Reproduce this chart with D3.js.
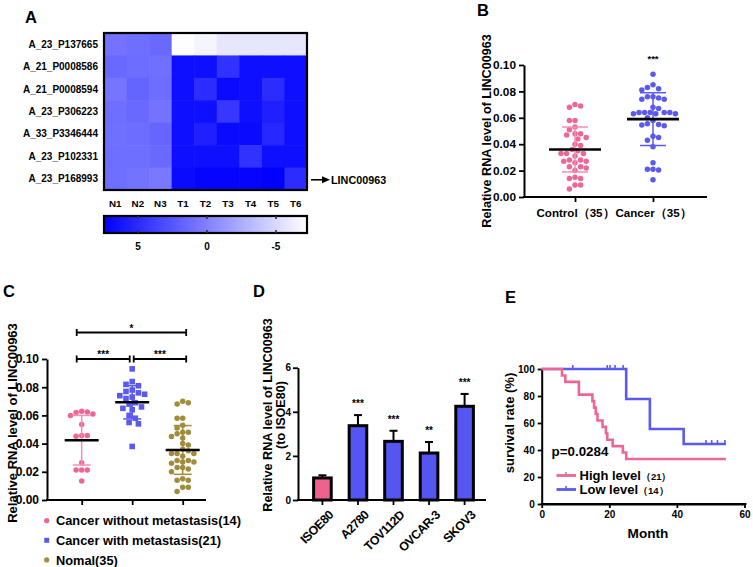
<!DOCTYPE html>
<html><head><meta charset="utf-8">
<script src="https://cdn.jsdelivr.net/npm/d3@7"></script>
<style>
html,body{margin:0;padding:0;background:#fff;}
text{font-family:'Liberation Sans',Arial,Helvetica,sans-serif;font-weight:bold;fill:#000;}
</style></head>
<body>
<script>
// ---------------- DATA ----------------
// Panel A heatmap
const heatRows = ["A_23_P137665","A_21_P0008586","A_21_P0008594","A_23_P306223","A_33_P3346444","A_23_P102331","A_23_P168993"];
const heatCols = ["N1","N2","N3","T1","T2","T3","T4","T5","T6"];
const heatValues = [
  [0.8, 1.1, 1.4, -7.2, -6.7, -5.8, -5.8, -5.8, -5.8],
  [1.4, 1.2, 1.0, 6.6, 6.6, 4.6, 6.6, 6.6, 6.6],
  [0.7, 1.7, 1.2, 6.6, 4.9, 6.9, 6.6, 4.9, 6.6],
  [1.1, 1.4, 0.8, 6.6, 6.6, 4.3, 6.6, 5.7, 6.6],
  [1.0, 1.2, 1.6, 6.6, 5.7, 6.9, 6.9, 5.2, 6.6],
  [1.1, 1.1, 1.4, 6.6, 6.6, 6.6, 4.6, 6.6, 6.6],
  [1.1, 0.8, 0.5, 6.9, 7.2, 7.2, 7.2, 7.4, 4.9]
];
const heatDomain = [7.46, -7.25];
const colorbarTicks = [5, 0, -5];
const highlightGene = "LINC00963";

// Panel B
const bGroups = ["Control（35）", "Cancer（35）"];
const bControl = [0.068,0.069,0.070,0.058,0.058,0.053,0.051,0.048,0.048,0.047,0.045,0.044,0.040,0.039,0.036,0.035,
  0.033,0.033,0.033,0.031,0.028,0.027,0.027,0.028,0.026,0.023,0.023,0.022,0.020,0.014,0.014,0.015,0.009,0.009,0.006];
const bCancer = [0.093,0.083,0.085,0.082,0.081,0.074,0.076,0.075,0.074,0.076,0.068,0.067,0.064,0.063,0.064,0.064,
  0.064,0.064,0.063,0.058,0.060,0.055,0.054,0.0545,0.0555,0.046,0.045,0.043,0.038,0.026,0.021,0.021,0.0205,0.013,0.063];
const bMean = [0.036, 0.059];
const bSD = [0.017, 0.020];
const bStars = ["", "***"];
const bTicks = [0, 0.02, 0.04, 0.06, 0.08, 0.10];

// Panel C
const cGroups = ["Cancer without metastasis(14)", "Cancer with metastasis(21)", "Nomal(35)"];
const cNoMet = [0.063,0.062,0.060,0.061,0.0625,0.0535,0.0458,0.0453,0.0458,0.0264,0.0212,0.0212,0.0212,0.0134];
const cMet = [0.093,0.084,0.082,0.081,0.078,0.077,0.076,0.075,0.074,0.073,0.072,0.069,0.068,0.066,0.065,0.064,0.060,0.058,0.055,0.054,0.038];
const cNormal = [0.068,0.069,0.070,0.058,0.058,0.053,0.051,0.048,0.048,0.047,0.045,0.044,0.040,0.039,0.036,0.035,
  0.033,0.033,0.033,0.031,0.028,0.027,0.027,0.028,0.026,0.023,0.023,0.022,0.020,0.014,0.014,0.015,0.009,0.009,0.006];
const cMean = [0.0424, 0.0693, 0.0355];
const cSD = [0.0176, 0.0118, 0.0173];
const cSigFrom = [0, 1, 0];
const cSigTo = [1, 2, 2];
const cSigLabel = ["***", "***", "*"];

// Panel D
const dLines = ["ISOE80", "A2780", "TOV112D", "OVCAR-3", "SKOV3"];
const dMean = [1.0, 3.37, 2.66, 2.13, 4.25];
const dErr = [0.12, 0.48, 0.48, 0.50, 0.56];
const dStars = ["", "***", "***", "**", "***"];
const dTicks = [0, 2, 4, 6];

// Panel E
const eHighTimes = [0, 6, 7, 11, 15, 15.5, 16, 16.5, 18, 19, 19.4, 21, 24, 25, 54.5];
const eHighSurv = [100, 95.2, 90.5, 81.0, 76.2, 71.4, 66.7, 61.9, 57.1, 52.4, 47.6, 42.9, 38.1, 33.3, 33.3];
const eLowTimes = [0, 25, 32, 42, 54.5];
const eLowSurv = [100, 77.8, 55.6, 44.4, 44.4];
const eLowCensor = [9.2, 19.4, 20.2, 21.7, 24.1, 48.6, 50.3, 52.0, 54.2];
const eLegend = ["High level", "Low level"];
const eLegendN = ["（21）", "（14）"];
const ePValue = "p=0.0284";
const eYTicks = [0, 20, 40, 60, 80, 100];
const eXTicks = [0, 20, 40, 60];

// ---------------- STYLE ----------------
const PINK = "#ee6696", PINK_LIGHT = "#f28fb2", BLUE = "#5a5af0", OLIVE = "#a08c3c";
const BAR_PINK = "#f0628e", BAR_BLUE = "#5555f2";

const W = 753, H = 567;
const svg = d3.select("body").append("svg").attr("width", W).attr("height", H);
svg.append("rect").attr("width", W).attr("height", H).attr("fill", "#fff");

function panelLetter(t, x, y) {
  svg.append("text").attr("x", x).attr("y", y).attr("font-size", 16.5).text(t);
}
function styleAxis(g, fs) {
  g.selectAll("path.domain").attr("stroke", "#000").attr("stroke-width", 2);
  g.selectAll(".tick line").attr("stroke", "#000").attr("stroke-width", 1.8);
  g.selectAll(".tick text").attr("font-size", fs).attr("font-family", "'Liberation Sans',Arial,sans-serif").attr("font-weight", "bold").attr("fill", "#000");
}
function swarm(vals, y, d) {
  const pts = vals.map(v => ({ v, y: y(v), x: 0 }));
  const order = pts.slice().sort((a, b) => a.y - b.y);
  const placed = [];
  const step = d / 2;
  order.forEach((p, idx) => {
    const first = idx % 2 ? 1 : -1;
    for (let k = 0; k < 80; k++) {
      const off = k === 0 ? 0 : (k % 2 ? first : -first) * Math.ceil(k / 2) * step;
      if (placed.every(q => (q.x - off) ** 2 + (q.y - p.y) ** 2 >= d * d * 0.97)) { p.x = off; break; }
    }
    placed.push(p);
  });
  return pts;
}

// ---------------- PANEL A ----------------
panelLetter("A", 25, 22.5);
const hx = d3.scaleBand().domain(heatCols).range([104, 307]);
const hy = d3.scaleBand().domain(heatRows).range([33, 190]);
const hColor = d3.scaleLinear().domain(heatDomain).range(["#0000ff", "#ffffff"]).clamp(true);
const gA = svg.append("g");
heatRows.forEach((r, i) => {
  heatCols.forEach((c, j) => {
    gA.append("rect").attr("x", hx(c)).attr("y", hy(r))
      .attr("width", hx.bandwidth() + 0.6).attr("height", hy.bandwidth() + 0.6)
      .attr("fill", hColor(heatValues[i][j]));
  });
});
gA.append("rect").attr("x", 104).attr("y", 33).attr("width", 203).attr("height", 157)
  .attr("fill", "none").attr("stroke", "#000").attr("stroke-width", 2.2);
gA.selectAll("text.row").data(heatRows).join("text").attr("class", "row")
  .attr("x", 98).attr("y", d => hy(d) + hy.bandwidth() / 2).attr("dy", "0.35em")
  .attr("text-anchor", "end").attr("font-size", 10).text(d => d);
gA.selectAll("text.col").data(heatCols).join("text").attr("class", "col")
  .attr("x", d => hx(d) + hx.bandwidth() / 2).attr("y", 207)
  .attr("text-anchor", "middle").attr("font-size", 9.8).text(d => d);
// arrow for highlighted gene
const arrowY = hy(heatRows[heatRows.length - 1]) + hy.bandwidth() / 2 + 1;
gA.append("line").attr("x1", 311).attr("x2", 324).attr("y1", arrowY).attr("y2", arrowY).attr("stroke", "#000").attr("stroke-width", 1.6);
gA.append("path").attr("d", `M322,${arrowY - 3.5}L330,${arrowY}L322,${arrowY + 3.5}Z`).attr("fill", "#000");
gA.append("text").attr("x", 331).attr("y", arrowY).attr("dy", "0.36em").attr("font-size", 10.8).text(highlightGene);
// colorbar
const cb = d3.scaleLinear().domain(heatDomain).range([104, 307]);
const defs = svg.append("defs");
const grad = defs.append("linearGradient").attr("id", "cbgrad").attr("x1", "0%").attr("x2", "100%");
grad.append("stop").attr("offset", "0%").attr("stop-color", hColor(heatDomain[0]));
grad.append("stop").attr("offset", "100%").attr("stop-color", hColor(heatDomain[1]));
gA.append("rect").attr("x", 104).attr("y", 216).attr("width", 203).attr("height", 17)
  .attr("fill", "url(#cbgrad)").attr("stroke", "#000").attr("stroke-width", 2.2);
colorbarTicks.forEach(t => {
  gA.append("line").attr("x1", cb(t)).attr("x2", cb(t)).attr("y1", 216).attr("y2", 219).attr("stroke", "#333").attr("stroke-width", 1.6);
  gA.append("line").attr("x1", cb(t)).attr("x2", cb(t)).attr("y1", 230).attr("y2", 233).attr("stroke", "#333").attr("stroke-width", 1.6);
  gA.append("text").attr("x", cb(t)).attr("y", 250).attr("text-anchor", "middle").attr("font-size", 10).text(t);
});

// ---------------- PANEL B ----------------
panelLetter("B", 477, 15.5);
const yB = d3.scaleLinear().domain([0, 0.10]).range([197, 65]);
const xB = d3.scalePoint().domain(bGroups).range([575, 653]);
const gB = svg.append("g");
const axBy = gB.append("g").attr("transform", "translate(524,0)")
  .call(d3.axisLeft(yB).tickValues(bTicks).tickFormat(d3.format(".2f")).tickSize(5).tickSizeOuter(0));
styleAxis(axBy, 11.8);
gB.append("line").attr("x1", 523).attr("x2", 707).attr("y1", 197).attr("y2", 197).attr("stroke", "#000").attr("stroke-width", 2);
const axBx = gB.append("g").attr("transform", "translate(0,197)").call(d3.axisBottom(xB).tickSize(5).tickSizeOuter(0));
axBx.select("path.domain").remove();
styleAxis(axBx, 11.6);
axBx.selectAll(".tick text").attr("dy", "1.05em");
gB.append("text").attr("transform", "translate(491,131) rotate(-90)").attr("text-anchor", "middle")
  .attr("font-size", 12.6).text("Relative RNA level of LINC00963");
[bControl, bCancer].forEach((vals, gi) => {
  const cx = xB(bGroups[gi]);
  const col = gi === 0 ? PINK : BLUE;
  const pts = swarm(vals, yB, 5.6);
  gB.append("g").selectAll("circle").data(pts).join("circle")
    .attr("cx", d => cx + d.x).attr("cy", d => d.y).attr("r", 2.75).attr("fill", col);
  const m = bMean[gi], s = bSD[gi];
  const ecol = gi === 0 ? PINK_LIGHT : BLUE;
  gB.append("line").attr("x1", cx).attr("x2", cx).attr("y1", yB(m - s)).attr("y2", yB(m + s)).attr("stroke", ecol).attr("stroke-width", 1.5);
  [m - s, m + s].forEach(v => gB.append("line").attr("x1", cx - 13).attr("x2", cx + 13).attr("y1", yB(v)).attr("y2", yB(v)).attr("stroke", ecol).attr("stroke-width", 1.5));
  gB.append("line").attr("x1", cx - 26).attr("x2", cx + 26).attr("y1", yB(m)).attr("y2", yB(m)).attr("stroke", "#000").attr("stroke-width", 2.6);
  if (bStars[gi]) gB.append("text").attr("x", cx).attr("y", 62).attr("text-anchor", "middle").attr("font-size", 9.5).text(bStars[gi]);
});

// ---------------- PANEL C ----------------
panelLetter("C", 3, 296.5);
const yC = d3.scaleLinear().domain([0, 0.10]).range([500, 359]);
const xC = d3.scalePoint().domain(cGroups).range([81.7, 182.7]);
const gC = svg.append("g");
const axCy = gC.append("g").attr("transform", "translate(47,0)")
  .call(d3.axisLeft(yC).tickValues(bTicks).tickFormat(d3.format(".2f")).tickSize(5).tickSizeOuter(0));
styleAxis(axCy, 12);
gC.append("line").attr("x1", 46).attr("x2", 206).attr("y1", 500).attr("y2", 500).attr("stroke", "#000").attr("stroke-width", 2);
const axCx = gC.append("g").attr("transform", "translate(0,500)").call(d3.axisBottom(xC).tickSize(5).tickSizeOuter(0).tickFormat(""));
axCx.select("path.domain").remove();
styleAxis(axCx, 11);
gC.append("text").attr("transform", "translate(16.5,423) rotate(-90)").attr("text-anchor", "middle")
  .attr("font-size", 13).text("Relative RNA level of LINC00963");
const cData = [cNoMet, cMet, cNormal];
const cCols = [PINK, BLUE, OLIVE];
const cErrCols = [PINK_LIGHT, BLUE, OLIVE];
cData.forEach((vals, gi) => {
  const cx = xC(cGroups[gi]);
  const pts = swarm(vals, yC, gi === 1 ? 6.2 : 5.6);
  const g = gC.append("g");
  if (gi === 1) {
    g.selectAll("rect").data(pts).join("rect")
      .attr("x", d => cx + d.x - 2.8).attr("y", d => d.y - 2.8).attr("width", 5.6).attr("height", 5.6).attr("fill", cCols[gi]);
  } else {
    g.selectAll("circle").data(pts).join("circle")
      .attr("cx", d => cx + d.x).attr("cy", d => d.y).attr("r", 2.75).attr("fill", cCols[gi]);
  }
  const m = cMean[gi], s = cSD[gi];
  gC.append("line").attr("x1", cx).attr("x2", cx).attr("y1", yC(m - s)).attr("y2", yC(m + s)).attr("stroke", cErrCols[gi]).attr("stroke-width", 1.5);
  [m - s, m + s].forEach(v => gC.append("line").attr("x1", cx - 9).attr("x2", cx + 9).attr("y1", yC(v)).attr("y2", yC(v)).attr("stroke", cErrCols[gi]).attr("stroke-width", 1.5));
  gC.append("line").attr("x1", cx - 17).attr("x2", cx + 17).attr("y1", yC(m)).attr("y2", yC(m)).attr("stroke", "#000").attr("stroke-width", 2.6);
});
// significance brackets
cSigLabel.forEach((lab, i) => {
  const a = cSigFrom[i], b = cSigTo[i];
  const x1 = xC(cGroups[a]) + (a === 1 ? 1.5 : -5);
  const x2 = xC(cGroups[b]) + (b === 1 ? -2.5 : 3.5);
  const y = (b - a === 2) ? 332.5 : yC(0.10);
  gC.append("line").attr("x1", x1).attr("x2", x2).attr("y1", y).attr("y2", y).attr("stroke", "#000").attr("stroke-width", 1.8);
  [x1, x2].forEach(x => gC.append("line").attr("x1", x).attr("x2", x).attr("y1", y - 3.5).attr("y2", y + 3.5).attr("stroke", "#000").attr("stroke-width", 1.8));
  gC.append("text").attr("x", (x1 + x2) / 2).attr("y", y - 1).attr("text-anchor", "middle").attr("font-size", 10).text(lab);
});
// legend
cGroups.forEach((lab, i) => {
  const ly = 520.7 + i * 19.6;
  if (i === 1) gC.append("rect").attr("x", 44.2).attr("y", ly - 2.5).attr("width", 5).attr("height", 5).attr("fill", cCols[i]);
  else gC.append("circle").attr("cx", 46.7).attr("cy", ly).attr("r", 2.6).attr("fill", cCols[i]);
  gC.append("text").attr("x", 56).attr("y", ly).attr("dy", "0.36em").attr("font-size", 12.8).text(lab);
});

// ---------------- PANEL D ----------------
panelLetter("D", 253, 297);
const yD = d3.scaleLinear().domain([0, 6]).range([500, 367.7]);
const xD = d3.scaleBand().domain(dLines).range([305, 482]).paddingInner(0.42).paddingOuter(0.2);
const gD = svg.append("g");
const axDy = gD.append("g").attr("transform", "translate(298,0)")
  .call(d3.axisLeft(yD).tickValues(dTicks).tickFormat(d3.format("d")).tickSize(5).tickPadding(2).tickSizeOuter(0));
styleAxis(axDy, 10);
gD.append("line").attr("x1", 297).attr("x2", 486).attr("y1", 500).attr("y2", 500).attr("stroke", "#000").attr("stroke-width", 2);
const axDx = gD.append("g").attr("transform", "translate(0,500)").call(d3.axisBottom(xD).tickSize(5).tickSizeOuter(0));
axDx.select("path.domain").remove();
styleAxis(axDx, 12.4);
axDx.selectAll(".tick text").attr("text-anchor", "end").attr("dy", 0)
  .attr("transform", "translate(6,10) rotate(-45)").attr("letter-spacing", -0.5);
gD.append("text").attr("transform", "translate(271.5,415) rotate(-90)").attr("text-anchor", "middle")
  .attr("font-size", 12.6).text("Relative RNA level of LINC00963");
gD.append("text").attr("transform", "translate(284.5,415) rotate(-90)").attr("text-anchor", "middle")
  .attr("font-size", 12.6).text("(to ISOE80)");
dLines.forEach((name, i) => {
  const x = xD(name), w = xD.bandwidth(), cx = x + w / 2;
  const top = yD(dMean[i] + dErr[i]);
  gD.append("line").attr("x1", cx).attr("x2", cx).attr("y1", yD(dMean[i])).attr("y2", top).attr("stroke", "#000").attr("stroke-width", 2);
  gD.append("line").attr("x1", cx - 4).attr("x2", cx + 4).attr("y1", top).attr("y2", top).attr("stroke", "#000").attr("stroke-width", 2);
  gD.append("rect").attr("x", x + 1.5).attr("y", yD(dMean[i])).attr("width", w - 3).attr("height", yD(0) - yD(dMean[i]))
    .attr("fill", i === 0 ? BAR_PINK : BAR_BLUE).attr("stroke", "#000").attr("stroke-width", 3);
  if (dStars[i]) gD.append("text").attr("x", cx).attr("y", top - 8).attr("text-anchor", "middle").attr("font-size", 10).text(dStars[i]);
});

// ---------------- PANEL E ----------------
panelLetter("E", 505, 303);
const xE = d3.scaleLinear().domain([0, 60]).range([541.7, 744.5]);
const yE = d3.scaleLinear().domain([0, 100]).range([504, 369]);
const gE = svg.append("g");
const axEy = gE.append("g").attr("transform", "translate(541.7,0)")
  .call(d3.axisLeft(yE).tickValues(eYTicks).tickSize(4).tickSizeOuter(0));
styleAxis(axEy, 10);
const axEx = gE.append("g").attr("transform", "translate(0,504)")
  .call(d3.axisBottom(xE).tickValues(eXTicks).tickSize(4).tickSizeOuter(0));
styleAxis(axEx, 10);
gE.append("line").attr("x1", 540.7).attr("x2", 746.5).attr("y1", 504).attr("y2", 504).attr("stroke", "#000").attr("stroke-width", 2);
gE.append("text").attr("transform", "translate(514,423) rotate(-90)").attr("text-anchor", "middle")
  .attr("font-size", 13).text("survival rate (%)");
gE.append("text").attr("x", 648).attr("y", 538).attr("text-anchor", "middle").attr("font-size", 13.6).text("Month");
const stepLine = d3.line().x(d => xE(d[0])).y(d => yE(d[1])).curve(d3.curveStepAfter);
const lowPts = eLowTimes.map((t, i) => [t, eLowSurv[i]]);
const highPts = eHighTimes.map((t, i) => [t, eHighSurv[i]]);
gE.append("path").attr("d", stepLine(lowPts)).attr("fill", "none").attr("stroke", BLUE).attr("stroke-width", 2.6);
function survAt(times, surv, t) { let s = surv[0]; times.forEach((tt, i) => { if (tt <= t) s = surv[i]; }); return s; }
eLowCensor.forEach(t => {
  const s = survAt(eLowTimes, eLowSurv, t);
  gE.append("line").attr("x1", xE(t)).attr("x2", xE(t)).attr("y1", yE(s)).attr("y2", yE(s) - 4).attr("stroke", BLUE).attr("stroke-width", 1.6);
});
gE.append("path").attr("d", stepLine(highPts)).attr("fill", "none").attr("stroke", PINK).attr("stroke-width", 2.6);
gE.append("text").attr("x", 551.5).attr("y", 455.5).attr("font-size", 13.4).text(ePValue);
eLegend.forEach((lab, i) => {
  const ly = 475.5 + i * 14;
  const col = i === 0 ? PINK : BLUE;
  gE.append("line").attr("x1", 556.5).attr("x2", 576).attr("y1", ly).attr("y2", ly).attr("stroke", col).attr("stroke-width", 2.8);
  gE.append("line").attr("x1", 566).attr("x2", 566).attr("y1", ly).attr("y2", ly - 3.5).attr("stroke", col).attr("stroke-width", 1.6);
  const t = gE.append("text").attr("x", 579.5).attr("y", ly).attr("dy", "0.36em").attr("font-size", 13).text(lab);
  t.append("tspan").attr("font-size", 9.5).text(eLegendN[i]);
});
</script>
</body></html>
